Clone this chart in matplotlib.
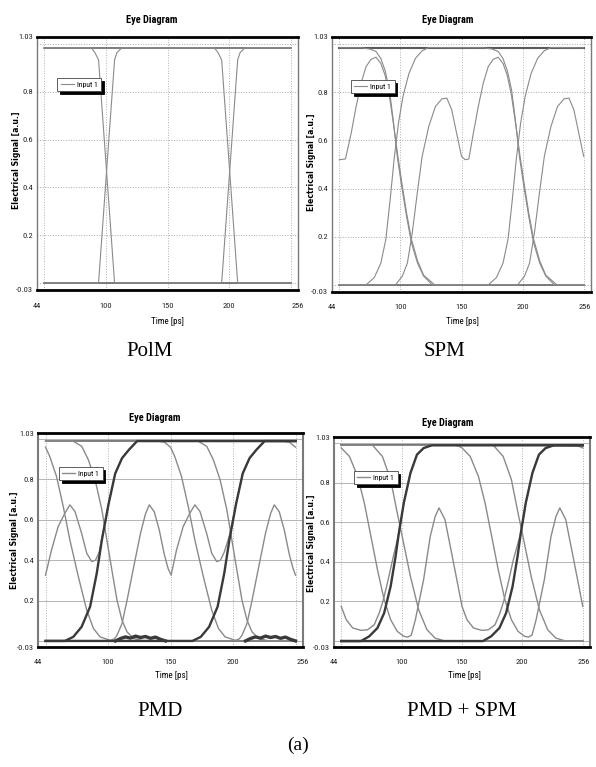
import matplotlib
matplotlib.use('Agg')
import matplotlib.pyplot as plt
from matplotlib import font_manager

# ------------------------------------------------------------------ data
x_tick_vals = [44, 100, 150, 200, 256]
x_tick_labels = ['44', '100', '150', '200', '256']
x_grid_vals = [50, 100, 150, 200, 250]
y_tick_vals = [-0.03, 0.2, 0.4, 0.6, 0.8, 1.03]
y_tick_labels = ['-0.03', '0.2', '0.4', '0.6', '0.8', '1.03']
y_grid_vals = [0.0, 0.2, 0.4, 0.6, 0.8, 1.0]
captions = ['PolM', 'SPM', 'PMD', 'PMD + SPM']
panel_title = 'Eye Diagram'
x_label = 'Time [ps]'
y_label = 'Electrical Signal [a.u.]'
legend_label = 'Input 1'

# --- PolM
polm_high_t = [50, 250]
polm_high_v = [0.985, 0.985]
polm_low_t = [50, 250]
polm_low_v = [0.0, 0.0]
polm_a_t = [50, 88, 91, 94, 107, 194, 207, 209, 213, 250]
polm_a_v = [0.985, 0.985, 0.965, 0.934, 0.0, 0.0, 0.934, 0.965, 0.985, 0.985]
polm_b_t = [50, 94, 107, 109, 113, 188, 191, 194, 207, 250]
polm_b_v = [0.0, 0.0, 0.934, 0.965, 0.985, 0.985, 0.965, 0.934, 0.0, 0.0]

# --- SPM
spm_high_t = [50, 250]
spm_high_v = [0.985, 0.985]
spm_low_t = [50, 250]
spm_low_v = [0.0, 0.0]
spm_a_t = [50, 68, 75, 80, 84, 87.5, 91, 94, 97.5, 101, 105, 109, 114, 119, 126,
           172, 178.6, 184, 188.1, 191.6, 194.8, 198.4, 202.1, 207, 212.4, 217.8, 223.2, 250]
spm_a_v = [0.985, 0.985, 0.98, 0.97, 0.94, 0.89, 0.81, 0.69, 0.53, 0.41, 0.285, 0.175, 0.09, 0.036, 0.0,
           0.0, 0.03, 0.09, 0.19, 0.354, 0.52, 0.672, 0.783, 0.879, 0.942, 0.973, 0.986, 0.985]
spm_b_t = [50, 72, 78.6, 84, 88.1, 91.6, 94.8, 98.4, 102.1, 107, 112.4, 117.8, 123.2,
           168, 175, 180, 184, 187.5, 191, 194, 197.5, 201, 205, 209, 214, 219, 226, 250]
spm_b_v = [0.0, 0.0, 0.03, 0.09, 0.19, 0.354, 0.52, 0.672, 0.783, 0.879, 0.942, 0.973, 0.986,
           0.985, 0.98, 0.97, 0.94, 0.89, 0.81, 0.69, 0.53, 0.41, 0.285, 0.175, 0.09, 0.036, 0.0, 0.0]
spm_c_t = [50, 55, 59.7, 63.7, 67.8, 71.9, 75.9, 80, 84, 87.5, 90.8, 94, 97.5, 101, 105, 109, 114, 119, 128,
           196, 201.6, 205.7, 209.7, 213.8, 217.8, 223.2, 228.6, 234, 238, 242, 246, 250]
spm_c_v = [0.52, 0.523, 0.63, 0.74, 0.838, 0.907, 0.937, 0.946, 0.92, 0.87, 0.79, 0.68, 0.55, 0.43, 0.30, 0.19,
           0.10, 0.04, 0.0, 0.0, 0.036, 0.09, 0.216, 0.382, 0.534, 0.658, 0.741, 0.773, 0.776, 0.727, 0.63, 0.534]
spm_d_t = [50, 96, 101.6, 105.7, 109.7, 113.8, 117.8, 123.2, 128.6, 134, 138, 142, 146, 150, 153, 156,
           159.7, 163.7, 167.8, 171.9, 175.9, 180, 184, 187.5, 190.8, 194, 197.5, 201, 205, 209, 214, 219, 228, 250]
spm_d_v = [0.0, 0.0, 0.036, 0.09, 0.216, 0.382, 0.534, 0.658, 0.741, 0.773, 0.776, 0.727, 0.63, 0.534, 0.52, 0.523,
           0.63, 0.74, 0.838, 0.907, 0.937, 0.946, 0.92, 0.87, 0.79, 0.68, 0.55, 0.43, 0.30, 0.19, 0.10, 0.04, 0.0, 0.0]

# --- PMD
pmd_high_t = [50, 250]
pmd_high_v = [0.99, 0.99]
pmd_low_t = [50, 250]
pmd_low_v = [0.0, 0.0]
pmd_dark_a_t = [50, 65.5, 72.2, 78.9, 85.7, 91.0, 95.1, 100.5, 105.8, 111.2, 116.6, 123.3, 250]
pmd_dark_a_v = [0.0, 0.0, 0.02, 0.07, 0.17, 0.335, 0.50, 0.68, 0.83, 0.905, 0.946, 0.99, 0.99]
pmd_dark_b_t = [50, 167.5, 174.2, 180.9, 187.7, 193.0, 197.1, 202.5, 207.8, 213.2, 218.6, 225.3, 250]
pmd_dark_b_v = [0.0, 0.0, 0.02, 0.07, 0.17, 0.335, 0.50, 0.68, 0.83, 0.905, 0.946, 0.99, 0.99]
pmd_ripple_a_t = [106, 110, 114, 118, 122, 126, 130, 134, 138, 142, 146]
pmd_ripple_a_v = [0.0, 0.012, 0.02, 0.014, 0.024, 0.017, 0.022, 0.013, 0.019, 0.008, 0.0]
pmd_ripple_b_t = [210, 214, 218, 222, 226, 230, 234, 238, 242, 246, 250]
pmd_ripple_b_v = [0.0, 0.012, 0.02, 0.014, 0.024, 0.017, 0.022, 0.013, 0.019, 0.008, 0.0]
pmd_c_t = [50, 72, 79, 84.3, 89.7, 95.1, 99.1, 103.1, 107.2, 111.2, 115.2, 120.6, 128.7, 250]
pmd_c_v = [0.99, 0.99, 0.964, 0.897, 0.798, 0.649, 0.5, 0.351, 0.202, 0.103, 0.045, 0.012, 0.0, 0.0]
pmd_d_t = [50, 172, 179, 184.3, 189.7, 195.1, 199.1, 203.1, 207.2, 211.2, 215.2, 220.6, 228.7, 250]
pmd_d_v = [0.99, 0.99, 0.964, 0.897, 0.798, 0.649, 0.5, 0.351, 0.202, 0.103, 0.045, 0.012, 0.0, 0.0]
pmd_e_t = [50, 53.4, 58.8, 64.2, 69.5, 76.3, 83, 88.4, 93.7, 101.8, 105, 107.2, 111.2, 115.2, 120.6, 126,
           130, 133, 137, 141, 145, 148, 150.5, 154.8, 160.1, 165.5, 169.5, 173.6, 178.9, 183, 187, 190,
           193, 197.1, 202.5, 207.8, 213.2, 218.6, 225.3, 240, 245, 250]
pmd_e_v = [0.96, 0.914, 0.815, 0.666, 0.5, 0.318, 0.152, 0.061, 0.02, 0.003, 0.01, 0.028, 0.086, 0.2, 0.368,
           0.533, 0.63, 0.674, 0.64, 0.55, 0.43, 0.36, 0.326, 0.45, 0.566, 0.633, 0.674, 0.641, 0.533, 0.434,
           0.393, 0.40, 0.44, 0.52, 0.68, 0.83, 0.905, 0.946, 0.99, 0.99, 0.985, 0.96]
pmd_f_t = [50, 54.8, 60.1, 65.5, 69.5, 73.6, 78.9, 83, 87, 90, 93, 95.1, 100.5, 105.8, 111.2, 116.6, 123.3,
           140, 145, 150, 153.4, 158.8, 164.2, 169.5, 176.3, 183, 188.4, 193.7, 201.8, 205, 207.2, 211.2,
           215.2, 220.6, 226, 230, 233, 237, 241, 245, 248, 250]
pmd_f_v = [0.326, 0.45, 0.566, 0.633, 0.674, 0.641, 0.533, 0.434, 0.393, 0.40, 0.44, 0.51, 0.68, 0.83, 0.905,
           0.946, 0.99, 0.99, 0.985, 0.96, 0.914, 0.815, 0.666, 0.5, 0.318, 0.152, 0.061, 0.02, 0.003, 0.01,
           0.028, 0.086, 0.2, 0.368, 0.533, 0.63, 0.674, 0.64, 0.55, 0.43, 0.36, 0.326]

# --- PMD + SPM
ps_high_t = [50, 250]
ps_high_v = [0.988, 0.988]
ps_low_t = [50, 250]
ps_low_v = [0.0, 0.0]
ps_dark_a_t = [50, 66.4, 73.2, 80, 85.5, 90.9, 95, 97.7, 101.8, 107.3, 112.7, 118.2, 125, 250]
ps_dark_a_v = [0.0, 0.0, 0.024, 0.066, 0.141, 0.276, 0.427, 0.545, 0.697, 0.848, 0.941, 0.974, 0.988, 0.988]
ps_dark_b_t = [50, 167.4, 174.2, 181, 186.5, 191.9, 196, 198.7, 202.8, 208.3, 213.7, 219.2, 226, 250]
ps_dark_b_v = [0.0, 0.0, 0.024, 0.066, 0.141, 0.276, 0.427, 0.545, 0.697, 0.848, 0.941, 0.974, 0.988, 0.988]
ps_c_t = [50, 76, 84.1, 90.9, 96.4, 100.5, 107.3, 114.1, 121, 127.7, 136, 250]
ps_c_v = [0.988, 0.988, 0.932, 0.815, 0.646, 0.528, 0.326, 0.158, 0.057, 0.015, 0.0, 0.0]
ps_d_t = [50, 176, 184.1, 190.9, 196.4, 200.5, 207.3, 214.1, 221, 227.7, 236, 250]
ps_d_v = [0.988, 0.988, 0.932, 0.815, 0.646, 0.528, 0.326, 0.158, 0.057, 0.015, 0.0, 0.0]
ps_e_t = [50, 56.8, 63.6, 69.1, 74.6, 80, 85.5, 90.9, 96.4, 101.8, 105, 108, 111.4, 118.2, 123.7, 127.8, 131,
          135.9, 141.4, 146.8, 150, 154.1, 159.5, 166.4, 171.8, 177.3, 181.4, 184.5, 188.5, 192.5, 198.7,
          202.8, 208.3, 213.7, 219.2, 226, 246, 250]
ps_e_v = [0.975, 0.932, 0.831, 0.697, 0.528, 0.36, 0.209, 0.108, 0.049, 0.024, 0.02, 0.03, 0.108, 0.31, 0.528,
          0.629, 0.672, 0.613, 0.444, 0.276, 0.175, 0.108, 0.066, 0.054, 0.057, 0.082, 0.141, 0.2, 0.3, 0.41,
          0.545, 0.697, 0.848, 0.941, 0.974, 0.988, 0.985, 0.975]
ps_f_t = [50, 54.1, 59.5, 66.4, 71.8, 77.3, 81.4, 84.5, 88.5, 92.5, 97.7, 101.8, 107.3, 112.7, 118.2, 125,
          144, 147, 150, 156.8, 163.6, 169.1, 174.6, 180, 185.5, 190.9, 196.4, 201.8, 205, 208, 211.4, 218.2,
          223.7, 227.8, 231, 235.9, 241.4, 246.8, 250]
ps_f_v = [0.175, 0.108, 0.066, 0.054, 0.057, 0.082, 0.141, 0.2, 0.3, 0.41, 0.545, 0.697, 0.848, 0.941, 0.974,
          0.988, 0.988, 0.985, 0.975, 0.932, 0.831, 0.697, 0.528, 0.36, 0.209, 0.108, 0.049, 0.024, 0.02, 0.03,
          0.108, 0.31, 0.528, 0.629, 0.672, 0.613, 0.444, 0.276, 0.175]

# ------------------------------------------------------------------ fonts
_names = {f.name for f in font_manager.fontManager.ttflist}


def pick(cands):
    for c in cands:
        if c in _names:
            return c
    return 'DejaVu Sans'


NARROW = pick(['Liberation Sans Narrow', 'Roboto Condensed', 'Open Sans Condensed', 'Liberation Sans', 'DejaVu Sans'])
SERIF = pick(['Liberation Serif', 'DejaVu Serif'])

# ------------------------------------------------------------------ styles
GRAY = '#8a8a8a'
LEVEL = '#5a5a5a'
DARK = '#3a3a3a'

W, H = 596, 767
fig = plt.figure(figsize=(W / 100, H / 100), dpi=100)
fig.patch.set_facecolor('white')


def fx(px):
    return px / W


def fy(py):
    return 1 - py / H


panels = [
    dict(box=(37, 37, 298, 290), leg=(0.077, 0.838), grid_ls=':', grid_c='#a8a8a8',
         traces=[(polm_high_t, polm_high_v, LEVEL, 1.1), (polm_low_t, polm_low_v, LEVEL, 1.1),
                 (polm_a_t, polm_a_v, GRAY, 0.8), (polm_b_t, polm_b_v, GRAY, 0.8)]),
    dict(box=(332, 37, 591, 292), leg=(0.073, 0.831), grid_ls=':', grid_c='#a8a8a8',
         traces=[(spm_high_t, spm_high_v, LEVEL, 1.5), (spm_low_t, spm_low_v, LEVEL, 1.1),
                 (spm_a_t, spm_a_v, GRAY, 0.8), (spm_b_t, spm_b_v, GRAY, 0.8),
                 (spm_c_t, spm_c_v, GRAY, 0.8), (spm_d_t, spm_d_v, GRAY, 0.8)]),
    dict(box=(38, 433, 303, 647), leg=(0.079, 0.841), grid_ls='-', grid_c='#b4b4b4',
         traces=[(pmd_high_t, pmd_high_v, LEVEL, 1.3), (pmd_low_t, pmd_low_v, LEVEL, 1.1),
                 (pmd_c_t, pmd_c_v, GRAY, 1.0), (pmd_d_t, pmd_d_v, GRAY, 1.0),
                 (pmd_e_t, pmd_e_v, GRAY, 1.0), (pmd_f_t, pmd_f_v, GRAY, 1.0),
                 (pmd_dark_a_t, pmd_dark_a_v, DARK, 1.7), (pmd_dark_b_t, pmd_dark_b_v, DARK, 1.7),
                 (pmd_ripple_a_t, pmd_ripple_a_v, DARK, 2.4), (pmd_ripple_b_t, pmd_ripple_b_v, DARK, 2.4)]),
    dict(box=(334, 437, 590, 647), leg=(0.078, 0.838), grid_ls='-', grid_c='#b4b4b4',
         traces=[(ps_high_t, ps_high_v, LEVEL, 1.3), (ps_low_t, ps_low_v, LEVEL, 1.1),
                 (ps_c_t, ps_c_v, GRAY, 1.0), (ps_d_t, ps_d_v, GRAY, 1.0),
                 (ps_e_t, ps_e_v, GRAY, 1.0), (ps_f_t, ps_f_v, GRAY, 1.0),
                 (ps_dark_a_t, ps_dark_a_v, DARK, 1.7), (ps_dark_b_t, ps_dark_b_v, DARK, 1.7)]),
]

title_pos = [(152, 20), (448, 20), (155, 418), (448, 423)]
ylabel_pos = [(17, 160), (311, 162), (15, 540), (312, 543)]
xlabel_pos = [(167, 322), (462, 322), (171, 676), (464, 676)]
caption_pos = [(150, 352), (445, 352), (160, 712), (462, 712)]

for i, p in enumerate(panels):
    x0, y0, x1, y1 = p['box']
    ax = fig.add_axes([fx(x0), fy(y1), (x1 - x0) / W, (y1 - y0) / H])
    ax.set_xlim(44, 256)
    ax.set_ylim(-0.03, 1.03)
    for gv in x_grid_vals:
        ax.axvline(gv, color='#b0b0b0', ls=':', lw=0.7, zorder=0)
    for gv in y_grid_vals:
        ax.axhline(gv, color=p['grid_c'], ls=p['grid_ls'], lw=0.7, zorder=0)
    handle = None
    for (t, v, c, lw) in p['traces']:
        ln, = ax.plot(t, v, color=c, lw=lw, solid_joinstyle='round', zorder=2)
        if handle is None and c == GRAY:
            handle = ln
    ax.set_xticks(x_tick_vals)
    ax.set_xticklabels(x_tick_labels)
    ax.set_yticks(y_tick_vals)
    ax.set_yticklabels(y_tick_labels)
    ax.tick_params(which='both', length=0, labelsize=6, labelfontfamily=NARROW, colors='#222222')
    ax.tick_params(axis='x', pad=9)
    ax.tick_params(axis='y', pad=3)
    if i in (1, 3):
        ax.get_xticklabels()[-1].set_horizontalalignment('right')
    for s in ['top', 'bottom']:
        ax.spines[s].set_color('black')
        ax.spines[s].set_linewidth(2.0)
    for s in ['left', 'right']:
        ax.spines[s].set_color('#7a7a7a')
        ax.spines[s].set_linewidth(1.0 if i < 2 else 1.5)
    lg = ax.legend([handle], [legend_label], loc='upper left', bbox_to_anchor=p['leg'],
                   borderaxespad=0, frameon=True, fancybox=False,
                   shadow={'color': 'black', 'alpha': 1.0},
                   prop={'family': NARROW, 'size': 5.5}, handlelength=1.7, handletextpad=0.4,
                   borderpad=0.45)
    lg.get_frame().set_edgecolor('#444444')
    lg.get_frame().set_linewidth(0.6)
    lg.get_frame().set_alpha(1.0)

    tx, ty = title_pos[i]
    fig.text(fx(tx), fy(ty), panel_title, ha='center', va='center', fontsize=7.5,
             fontweight='bold', family=NARROW)
    lx, ly = ylabel_pos[i]
    fig.text(fx(lx), fy(ly), y_label, ha='center', va='center', rotation=90, fontsize=5.6,
             fontweight='bold', family='DejaVu Sans')
    xx, xy = xlabel_pos[i]
    fig.text(fx(xx), fy(xy), x_label, ha='center', va='center', fontsize=6.5, family=NARROW)
    cx, cy = caption_pos[i]
    fig.text(fx(cx), fy(cy), captions[i], ha='center', va='center', fontsize=15, family=SERIF)

fig.text(fx(298), fy(745), '(a)', ha='center', va='center', fontsize=14, family=SERIF)

fig.savefig('out.png', dpi=100, facecolor='white')
